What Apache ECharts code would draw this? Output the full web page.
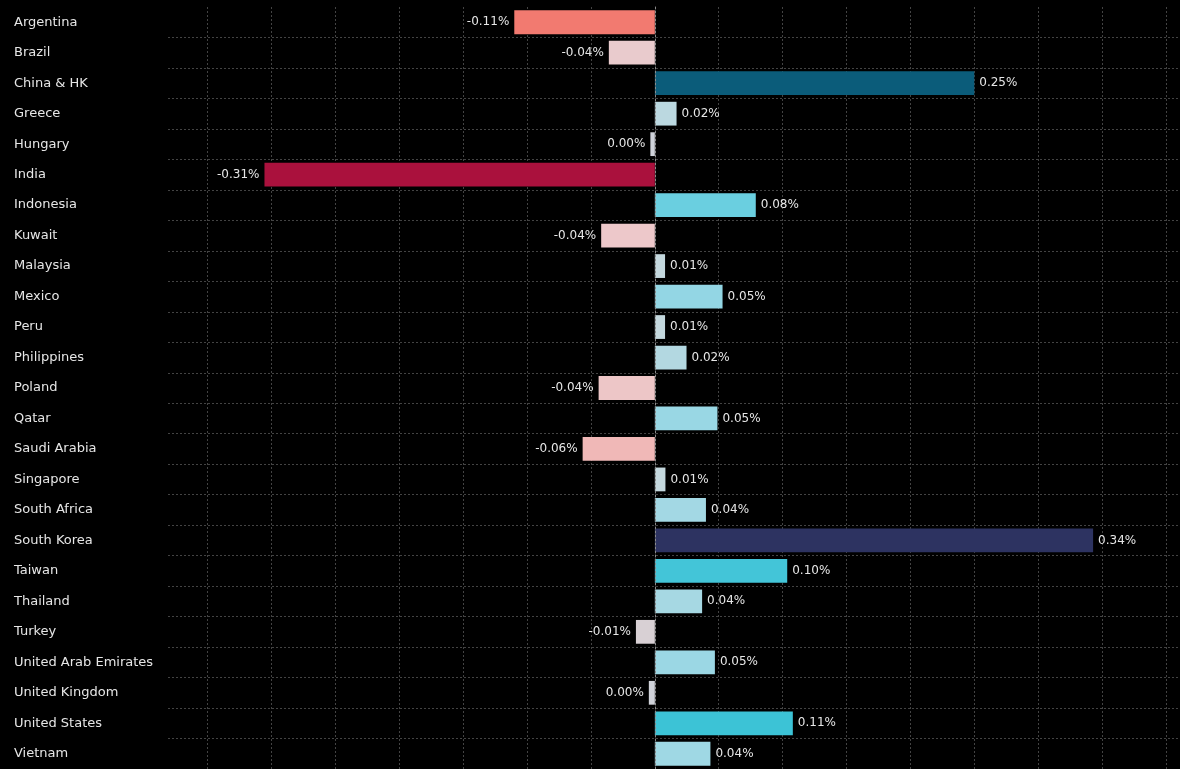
<!DOCTYPE html>
<html>
<head>
<meta charset="utf-8">
<script src="https://cdn.jsdelivr.net/npm/echarts@6/dist/echarts.min.js"></script>
<style>
  html, body { margin: 0; padding: 0; background: #000; }
  #grf { width: 1180px; height: 769px; }
</style>
</head>
<body>
<div id="grf"></div>
<script>
// Paises
var paises = ['Argentina', 'Brazil', 'China & HK', 'Greece', 'Hungary', 'India', 'Indonesia',
  'Kuwait', 'Malaysia', 'Mexico', 'Peru', 'Philippines', 'Poland', 'Qatar', 'Saudi Arabia',
  'Singapore', 'South Africa', 'South Korea', 'Taiwan', 'Thailand', 'Turkey',
  'United Arab Emirates', 'United Kingdom', 'United States', 'Vietnam'];

// Contribuicao (%)
var valores = [-0.110, -0.036, 0.250, 0.017, -0.0035, -0.3055, 0.079,
  -0.042, 0.008, 0.053, 0.008, 0.0248, -0.044, 0.049, -0.0565,
  0.0083, 0.040, 0.343, 0.1036, 0.037, -0.0148,
  0.047, -0.0047, 0.108, 0.0435];

// escala de cores (valor -> cor)
var escala = [
  [-0.31, '#a80f3c'], [-0.11, '#f27a70'], [-0.056, '#f0b9b8'], [-0.04, '#eccacc'],
  [-0.015, '#d8d0d4'], [0, '#ccd3db'], [0.008, '#c4d8de'], [0.02, '#b8d8e0'],
  [0.04, '#a3d8e4'], [0.05, '#98d7e4'], [0.08, '#68cfe0'], [0.108, '#3cc3d6'],
  [0.25, '#0b5c7a'], [0.343, '#2d3361']
];

function hexRgb(h) {
  return [parseInt(h.substr(1, 2), 16), parseInt(h.substr(3, 2), 16), parseInt(h.substr(5, 2), 16)];
}

function corDoValor(v) {
  if (v <= escala[0][0]) return escala[0][1];
  for (var i = 1; i < escala.length; i++) {
    if (v <= escala[i][0]) {
      var a = escala[i - 1], b = escala[i];
      var t = (v - a[0]) / (b[0] - a[0]);
      var ca = hexRgb(a[1]), cb = hexRgb(b[1]);
      var c = ca.map(function (x, k) { return Math.round(x + (cb[k] - x) * t); });
      return 'rgb(' + c.join(',') + ')';
    }
  }
  return escala[escala.length - 1][1];
}

function formata(v) {
  return (Math.round(v * 100) / 100).toFixed(2) + '%';
}

var grafico = echarts.init(document.getElementById('grf'));

var dados = valores.map(function (v) {
  return {
    value: v,
    itemStyle: { color: corDoValor(v) },
    label: { position: v < 0 ? 'left' : 'right' }
  };
});

var opcoes = {
  backgroundColor: '#000',
  animation: false,
  grid: {
    top: 7,
    bottom: -4,
    left: 168,
    right: 0
  },
  xAxis: {
    type: 'value',
    min: -0.381,
    max: 0.411,
    splitNumber: 16,
    axisLine: { show: false },
    axisTick: { show: false },
    axisLabel: { show: false },
    splitLine: {
      show: true,
      showMinLine: false,
      showMaxLine: false,
      lineStyle: { color: '#434343', type: [2, 2] }
    }
  },
  yAxis: {
    type: 'category',
    data: paises,
    inverse: true,
    z: 10,
    axisLine: { show: true, lineStyle: { color: '#8a8a8a', type: [2, 2] } },
    axisTick: { show: false },
    axisLabel: {
      align: 'left',
      margin: 154,
      color: '#e6e6e6',
      fontFamily: 'DejaVu Sans',
      fontSize: 13
    },
    splitLine: {
      show: true,
      showMinLine: false,
      showMaxLine: false,
      lineStyle: { color: '#434343', type: [2, 2] }
    }
  },
  series: [{
    type: 'bar',
    barWidth: '78%',
    data: dados,
    label: {
      show: true,
      distance: 5,
      color: '#e6e6e6',
      fontFamily: 'DejaVu Sans',
      fontSize: 12,
      formatter: function (p) { return formata(p.value); }
    }
  }]
};

grafico.setOption(opcoes);
</script>
</body>
</html>
